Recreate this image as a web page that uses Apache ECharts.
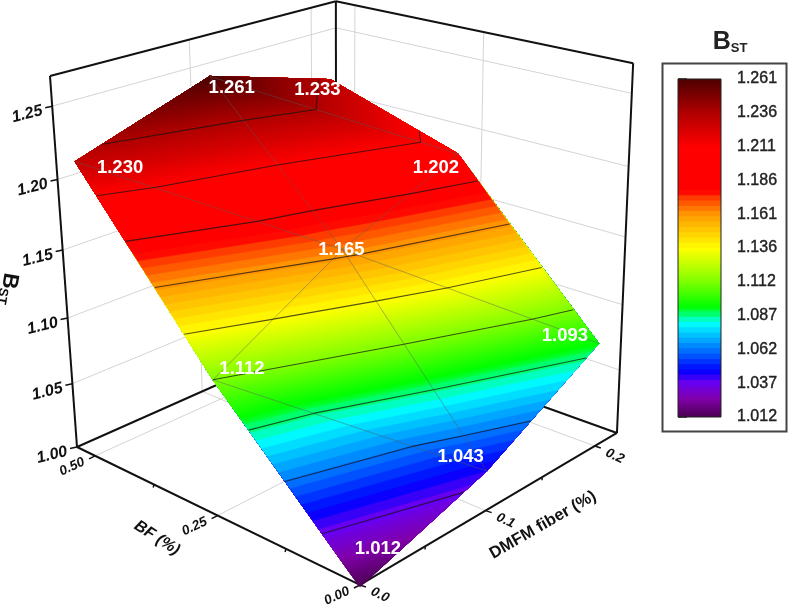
<!DOCTYPE html>
<html>
<head>
<meta charset="utf-8">
<style>
  html, body { margin: 0; background: #fff; }
  #app { width: 788px; height: 611px; }
</style>
<script src="https://cdn.jsdelivr.net/npm/echarts@6/dist/echarts.min.js"></script>
</head>
<body>
<div id="app"></div>
<script>
// values
const dmfmValues = [0, 0.1, 0.2];
const bfValues = [0, 0.25, 0.5];
// one row per BF value, one column per DMFM value
const bstValues = [
  [1.012, 1.043, 1.093],
  [1.112, 1.165, 1.202],
  [1.230, 1.261, 1.233],
];
const zTicks = [1.0, 1.05, 1.1, 1.15, 1.2, 1.25];
const dmfmMinorTicks = [0.05, 0.15];
const bfMinorTicks = [0.125, 0.375];
const legendLabels = ["1.012", "1.037", "1.062", "1.087", "1.112", "1.136", "1.161", "1.186", "1.211", "1.236", "1.261"];
const colorStops = [
  [1.012, "#4a0050"], [1.025, "#8000a8"], [1.037, "#6a00f0"], [1.046, "#0000ff"],
  [1.062, "#0078ff"], [1.081, "#00ffff"], [1.093, "#00ff00"], [1.112, "#80ff00"],
  [1.136, "#ffff00"], [1.161, "#ff9900"], [1.175, "#ff3000"], [1.178, "#ff0000"],
  [1.211, "#ff0000"], [1.236, "#b00000"], [1.261, "#4d0000"],
];

// axis ends, the axes run a little past the last tick
const dmfmMax = 0.222;
const bfMax = 0.54;
const zMin = 1.0;
const zMax = 1.27;
// the surface sits this far under its printed values in the picture
const surfaceDrop = 0.0135;
const bandCount = 64;
const bstMin = 1.012;
const bstMax = 1.261;
const font = "Liberation Sans";

// projective box: floor-left corner plus one homogeneous vector per box axis
const origin = [77, 447, 1];
const dirU = [307.05, -67.5, 0.143];
const dirV = [229.5, 51.1, -0.1485];
const dirT = [-31.7, -378.1, -0.094];

function project(dmfm, bf, z) {
  const u = dmfm / dmfmMax;
  const v = 1 - bf / bfMax;
  const t = (z - zMin) / (zMax - zMin);
  const h = [0, 1, 2].map((k) => origin[k] + u * dirU[k] + v * dirV[k] + t * dirT[k]);
  // small nudge, the right wall of the picture leans less than a true projection
  return [h[0] / h[2] - 13 * t * u * v, h[1] / h[2] + 5 * t * u * v];
}

function seg(a, b) {
  return [...project(a[0], a[1], a[2]), ...project(b[0], b[1], b[2])];
}

// straight line pieces, all through the hidden page axes
function lineSeries(segs, style, z) {
  return {
    type: "custom",
    coordinateSystem: "cartesian2d",
    xAxisIndex: 0,
    yAxisIndex: 0,
    silent: true,
    z: z,
    data: segs,
    renderItem: (params, api) => {
      const p1 = api.coord([api.value(0), api.value(1)]);
      const p2 = api.coord([api.value(2), api.value(3)]);
      return {
        type: "line",
        shape: { x1: p1[0], y1: p1[1], x2: p2[0], y2: p2[1] },
        style: style,
      };
    },
  };
}

function textSeries(items, z) {
  return {
    type: "custom",
    coordinateSystem: "cartesian2d",
    xAxisIndex: 0,
    yAxisIndex: 0,
    silent: true,
    z: z,
    data: items.map((d) => d.pos),
    renderItem: (params, api) => {
      const d = items[params.dataIndex];
      const p = api.coord([api.value(0), api.value(1)]);
      return {
        type: "text",
        x: p[0],
        y: p[1],
        rotation: ((d.rot || 0) * Math.PI) / 180,
        style: Object.assign({ align: "center", verticalAlign: "middle", fontFamily: font }, d.style),
      };
    },
  };
}

function colorAt(val) {
  for (let i = 1; i < colorStops.length; i++) {
    if (val <= colorStops[i][0]) {
      const a = colorStops[i - 1];
      const b = colorStops[i];
      const f = (val - a[0]) / (b[0] - a[0]);
      return echarts.color.lerp(f, [a[1], b[1]]);
    }
  }
  return colorStops[colorStops.length - 1][1];
}

// colour bands, steps only show in the orange and the blue part of the ramp
const bands = [];
for (let i = 0; i < bandCount; i++) {
  const lo = bstMin + ((bstMax - bstMin) * i) / bandCount;
  const hi = bstMin + ((bstMax - bstMin) * (i + 1)) / bandCount;
  const mid = (lo + hi) / 2;
  const coarse = (mid > 1.137 && mid < 1.178) || (mid > 1.035 && mid < 1.09);
  const parts = coarse ? 1 : 4;
  for (let k = 0; k < parts; k++) {
    const a = lo + ((hi - lo) * k) / parts;
    const b = lo + ((hi - lo) * (k + 1)) / parts;
    bands.push({ lo: a, color: colorAt((a + b) / 2) });
  }
}

// the surface is two triangles per cell, split along the falling diagonal
const triangles = [];
for (let j = 0; j < bfValues.length - 1; j++) {
  for (let i = 0; i < dmfmValues.length - 1; i++) {
    const node = (a, b) => [dmfmValues[a], bfValues[b], bstValues[b][a]];
    triangles.push([node(i, j), node(i + 1, j), node(i, j + 1)]);
    triangles.push([node(i + 1, j), node(i + 1, j + 1), node(i, j + 1)]);
  }
}

function crossing(a, b, level) {
  const f = (level - a[2]) / (b[2] - a[2]);
  return [a[0] + (b[0] - a[0]) * f, a[1] + (b[1] - a[1]) * f, level];
}

// part of a triangle at or above a level
function clipAbove(poly, level) {
  const out = [];
  poly.forEach((p, k) => {
    const q = poly[(k + 1) % poly.length];
    const pIn = p[2] >= level;
    const qIn = q[2] >= level;
    if (pIn) out.push(p);
    if (pIn !== qIn) out.push(crossing(p, q, level));
  });
  return out;
}

// painted low to high, each band covers everything above it, so no seams show
const surfacePolys = [];
bands.forEach((band) => {
  triangles.forEach((tri) => {
    const poly = clipAbove(tri, band.lo);
    if (poly.length > 2) {
      surfacePolys.push({
        color: band.color,
        points: poly.map((p) => project(p[0], p[1], p[2] - surfaceDrop)),
      });
    }
  });
});

// contour lines sit on the legend ticks
const contourSegs = [];
legendLabels.slice(1, -1).forEach((label) => {
  const level = Number(label);
  triangles.forEach((tri) => {
    const cuts = [];
    tri.forEach((p, k) => {
      const q = tri[(k + 1) % 3];
      if (p[2] >= level !== q[2] >= level) cuts.push(crossing(p, q, level));
    });
    if (cuts.length === 2) {
      contourSegs.push(
        seg(
          [cuts[0][0], cuts[0][1], level - surfaceDrop],
          [cuts[1][0], cuts[1][1], level - surfaceDrop]
        )
      );
    }
  });
});

const meshSegs = [];
triangles.forEach((tri) => {
  tri.forEach((p, k) => {
    const q = tri[(k + 1) % 3];
    const onEdge =
      (p[0] === q[0] && (p[0] === 0 || p[0] === 0.2)) ||
      (p[1] === q[1] && (p[1] === 0 || p[1] === 0.5));
    if (!onEdge) meshSegs.push(seg([p[0], p[1], p[2] - surfaceDrop], [q[0], q[1], q[2] - surfaceDrop]));
  });
});

// walls and floor
const gridSegs = [];
zTicks.slice(1).forEach((z) => {
  gridSegs.push(seg([0, bfMax, z], [dmfmMax, bfMax, z]));
  gridSegs.push(seg([dmfmMax, bfMax, z], [dmfmMax, 0, z]));
});
dmfmValues.slice(1).forEach((d) => {
  gridSegs.push(seg([d, bfMax, zMin], [d, bfMax, zMax]));
  gridSegs.push(seg([d, 0, zMin], [d, bfMax, zMin]));
});
bfValues.slice(1).forEach((b) => {
  gridSegs.push(seg([dmfmMax, b, zMin], [dmfmMax, b, zMax]));
  gridSegs.push(seg([0, b, zMin], [dmfmMax, b, zMin]));
});

const boxSegs = [
  seg([0, bfMax, zMin], [0, 0, zMin]),
  seg([0, 0, zMin], [dmfmMax, 0, zMin]),
  seg([0, bfMax, zMin], [dmfmMax, bfMax, zMin]),
  seg([dmfmMax, bfMax, zMin], [dmfmMax, 0, zMin]),
  seg([0, bfMax, zMin], [0, bfMax, zMax]),
  seg([dmfmMax, bfMax, zMin], [dmfmMax, bfMax, zMax]),
  seg([dmfmMax, 0, zMin], [dmfmMax, 0, zMax]),
  seg([0, bfMax, zMax], [dmfmMax, bfMax, zMax]),
  seg([dmfmMax, bfMax, zMax], [dmfmMax, 0, zMax]),
];

function tick(point, dx, dy) {
  const p = project(point[0], point[1], point[2]);
  return [p[0], p[1], p[0] + dx, p[1] + dy];
}
const tickSegs = [
  ...zTicks.map((z) => tick([0, bfMax, z], -7, 1.5)),
  ...bfValues.map((b) => tick([0, b, zMin], -6, 3)),
  ...dmfmValues.map((d) => tick([d, 0, zMin], 6, 2)),
  ...bfMinorTicks.map((b) => tick([0, b, zMin], -1, 3)),
  ...dmfmMinorTicks.map((d) => tick([d, 0, zMin], 0, 3)),
];

// text
const tickStyle = (size) => ({ fontSize: size, fontWeight: "bold", fontStyle: "italic", fill: "#111" });
function shifted(point, dx, dy) {
  const p = project(point[0], point[1], point[2]);
  return [p[0] + dx, p[1] + dy];
}
const valueOffsets = [
  [[18, -38], [-26, -14], [-34, -8]],
  [[29, -11], [-1, 0], [-22, 14]],
  [[45, 6], [22, 11], [-13, 10]],
];
const axisTexts = [
  ...zTicks.map((z) => ({
    pos: shifted([0, bfMax, z], -25, 8),
    rot: 14,
    style: Object.assign(tickStyle(16), { text: z.toFixed(2) }),
  })),
  ...bfValues.map((b) => ({
    pos: shifted([0, b, zMin], -23, 11),
    rot: 25,
    style: Object.assign(tickStyle(13.5), { text: b.toFixed(2) }),
  })),
  ...dmfmValues.map((d) => ({
    pos: shifted([d, 0, zMin], 20, 10),
    rot: -25,
    style: Object.assign(tickStyle(13.5), { text: d.toFixed(1) }),
  })),
  {
    pos: [157, 538],
    rot: -33,
    style: { text: "BF (%)", fontSize: 16, fontWeight: "bold", fontStyle: "italic", fill: "#111" },
  },
  {
    pos: [543, 525],
    rot: 30,
    style: { text: "DMFM fiber (%)", fontSize: 16.5, fontWeight: "bold", fill: "#111" },
  },
  {
    pos: [8, 289],
    rot: -100,
    style: {
      text: "{b|B}{s|ST}",
      rich: {
        b: { fontSize: 22, fontWeight: "bold", fontFamily: font, fill: "#111" },
        s: { fontSize: 13, fontWeight: "bold", fontFamily: font, fill: "#111", verticalAlign: "bottom", padding: [6, 0, 0, 0] },
      },
    },
  },
  {
    pos: [730, 42],
    style: {
      text: "{b|B}{s|ST}",
      rich: {
        b: { fontSize: 25, fontFamily: font, fontWeight: "bold", fill: "#222" },
        s: { fontSize: 13, fontFamily: font, fontWeight: "bold", fill: "#222", padding: [12, 0, 0, 0] },
      },
    },
  },
];

const valueTexts = [];
bstValues.forEach((row, j) => {
  row.forEach((val, i) => {
    valueTexts.push({
      pos: shifted([dmfmValues[i], bfValues[j], val - surfaceDrop], valueOffsets[j][i][0], valueOffsets[j][i][1]),
      style: { text: val.toFixed(3), fontSize: 18.5, fontWeight: "bold", fill: "#fff" },
    });
  });
});

const legendStep = (bstMax - bstMin) / (legendLabels.length - 1);
const legendTop = legendLabels.length - 1;

const myChart = echarts.init(document.getElementById("app"), null, { renderer: "canvas" });
myChart.setOption({
  animation: false,
  backgroundColor: "#fff",
  grid: [
    { left: 0, top: 0, width: 788, height: 611 },
    { left: 678, top: 79, width: 43, height: 338 },
  ],
  xAxis: [
    { type: "value", min: 0, max: 788, show: false, gridIndex: 0 },
    { type: "value", min: 0, max: 1, show: false, gridIndex: 1 },
  ],
  yAxis: [
    { type: "value", min: 0, max: 611, inverse: true, show: false, gridIndex: 0 },
    {
      type: "value",
      gridIndex: 1,
      position: "right",
      min: 0,
      max: legendTop,
      interval: 1,
      splitLine: { show: false },
      axisLine: { show: false },
      axisTick: { show: true, length: 9, lineStyle: { color: "#222", width: 1.5 } },
      axisLabel: {
        margin: 16,
        fontFamily: font,
        fontSize: 16,
        color: "#222",
        textBorderColor: "#222",
        textBorderWidth: 0.4,
        formatter: (v) => legendLabels[v],
      },
    },
  ],
  graphic: [
    {
      type: "rect",
      z: 0,
      shape: { x: 662.5, y: 63.5, width: 124, height: 368 },
      style: { fill: "#fff", stroke: "#444", lineWidth: 2 },
    },
  ],
  series: [
    lineSeries(gridSegs, { stroke: "#d4d4d4", lineWidth: 1 }, 1),
    lineSeries(boxSegs, { stroke: "#111", lineWidth: 2 }, 2),
    lineSeries(tickSegs, { stroke: "#111", lineWidth: 1.5 }, 2),
    {
      type: "custom",
      coordinateSystem: "cartesian2d",
      xAxisIndex: 0,
      yAxisIndex: 0,
      silent: true,
      z: 3,
      data: surfacePolys.map((d, i) => [i]),
      renderItem: (params, api) => {
        const d = surfacePolys[params.dataIndex];
        return {
          type: "polygon",
          shape: { points: d.points.map((p) => api.coord(p)) },
          style: { fill: d.color, stroke: d.color, lineWidth: 0.5 },
        };
      },
    },
    lineSeries(meshSegs, { stroke: "rgba(90,90,90,0.25)", lineWidth: 1 }, 4),
    lineSeries(contourSegs, { stroke: "rgba(20,20,20,0.72)", lineWidth: 1.1 }, 5),
    textSeries(axisTexts, 6),
    textSeries(valueTexts, 6),
    // legend bar, painted the same way as the surface
    {
      type: "custom",
      coordinateSystem: "cartesian2d",
      xAxisIndex: 1,
      yAxisIndex: 1,
      silent: true,
      z: 3,
      data: bands.map((b) => [(b.lo - bstMin) / legendStep]),
      renderItem: (params, api) => {
        const p1 = api.coord([0, legendTop]);
        const p2 = api.coord([1, api.value(0)]);
        return {
          type: "rect",
          shape: { x: p1[0], y: p1[1], width: p2[0] - p1[0], height: p2[1] - p1[1] },
          style: { fill: bands[params.dataIndex].color },
        };
      },
    },
    {
      type: "custom",
      coordinateSystem: "cartesian2d",
      xAxisIndex: 1,
      yAxisIndex: 1,
      silent: true,
      z: 4,
      data: [[0, legendTop]],
      renderItem: (params, api) => {
        const p1 = api.coord([0, api.value(1)]);
        const p2 = api.coord([1, api.value(0)]);
        return {
          type: "rect",
          shape: { x: p1[0], y: p1[1], width: p2[0] - p1[0], height: p2[1] - p1[1] },
          style: { fill: "none", stroke: "#222", lineWidth: 1 },
        };
      },
    },
  ],
});
</script>
</body>
</html>
